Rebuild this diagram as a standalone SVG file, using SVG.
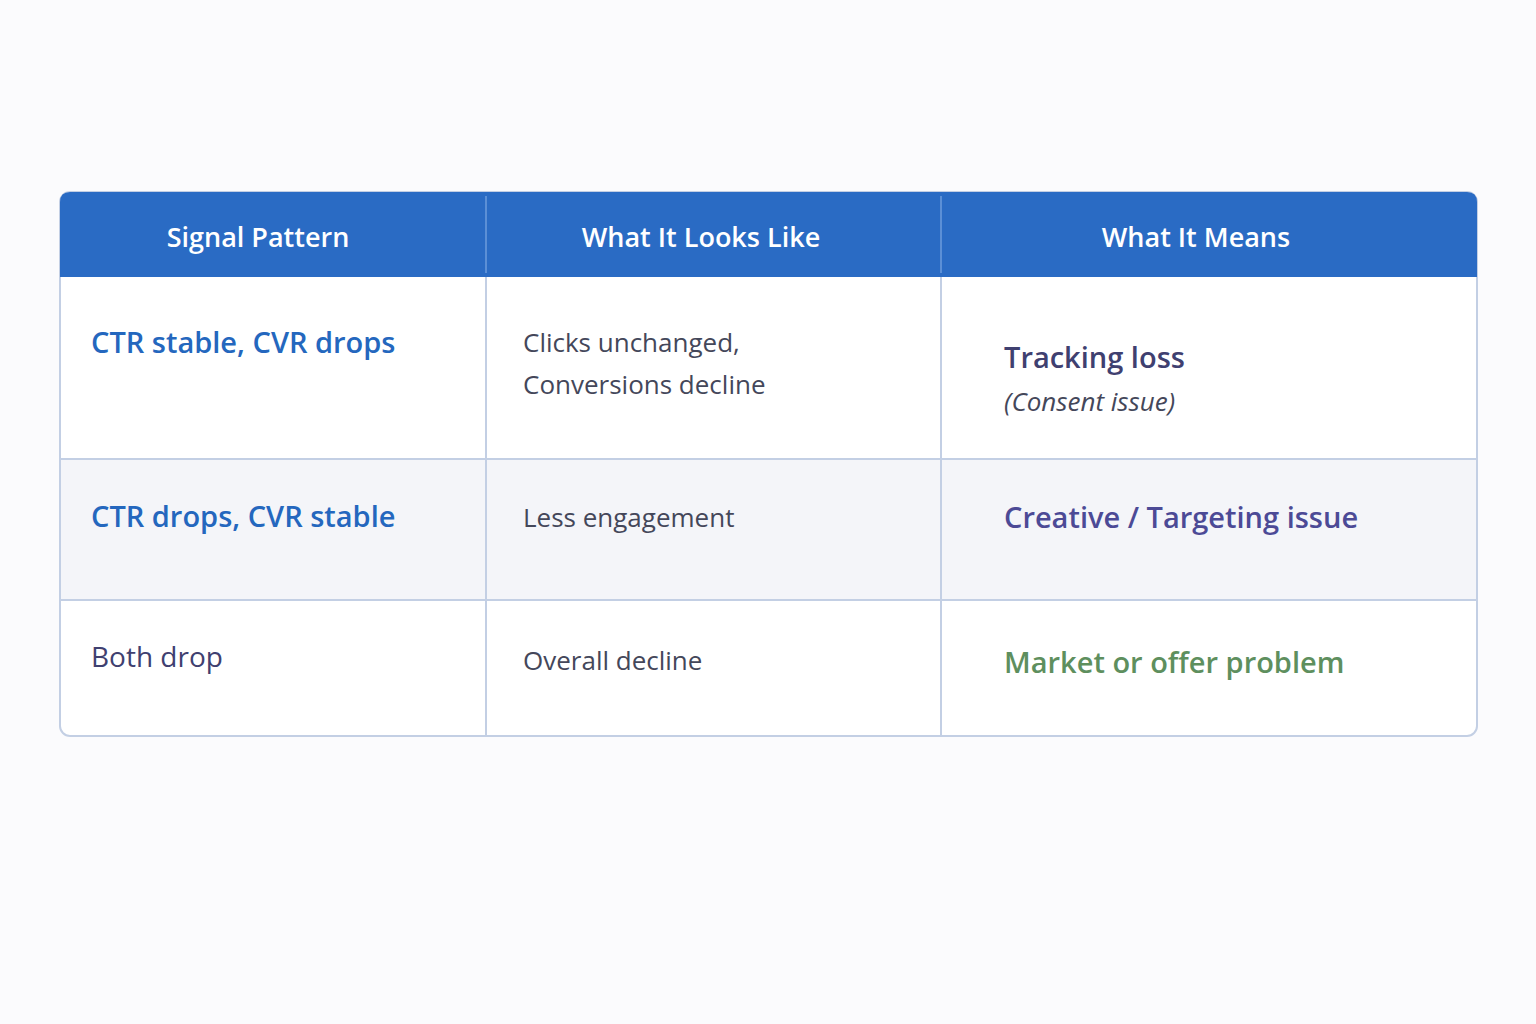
<svg xmlns="http://www.w3.org/2000/svg" width="1536" height="1024" viewBox="0 0 1536 1024">
<style>
text{font-family:"Open Sans","Noto Sans",sans-serif}
.h{fill:#fff;font-size:27px;font-weight:600;text-anchor:middle}
.b{fill:#2467be;font-size:29px;font-weight:600}
.n{fill:#44475a;font-size:26px}
.ln{stroke:#c3cfe4;stroke-width:2;fill:none}
</style>
<rect width="1536" height="1024" fill="#fbfbfd"/>
<g id="table">
<rect x="60" y="192" width="1417" height="544" rx="10" fill="#fff" stroke="#c3cfe4" stroke-width="2"/>
<rect x="61" y="459" width="1415" height="141" fill="#f4f5f9"/>
<path d="M70 192 H1467 Q1477 192 1477 202 V277 H60 V202 Q60 192 70 192Z" fill="#2a6bc4"/>
<path class="ln" d="M60 459 H1477 M60 600 H1477 M486 277 V736 M941 277 V736"/>
<path d="M486 196 V273 M941 196 V273" stroke="#5b8fd6" stroke-width="2"/>
</g>
<g id="header">
<text class="h" x="258" y="247">Signal Pattern</text>
<text class="h" x="701" y="247">What It Looks Like</text>
<text class="h" x="1196" y="247">What It Means</text>
</g>
<g id="row1">
<text class="b" x="91" y="353">CTR stable, CVR drops</text>
<text class="n" x="523" y="352">Clicks unchanged,</text>
<text class="n" x="523" y="394">Conversions decline</text>
<text x="1004" y="368" font-size="29" font-weight="600" fill="#3f4070">Tracking loss</text>
<text x="1004" y="411" font-size="26" font-style="italic" fill="#44475a">(Consent issue)</text>
</g>
<g id="row2">
<text class="b" x="91" y="527">CTR drops, CVR stable</text>
<text class="n" x="523" y="527">Less engagement</text>
<text x="1004" y="528" font-size="29" font-weight="600" fill="#4c4a96">Creative / Targeting issue</text>
</g>
<g id="row3">
<text x="91" y="667" font-size="28" fill="#3f4070">Both drop</text>
<text class="n" x="523" y="670">Overall decline</text>
<text x="1004" y="673" font-size="29" font-weight="600" fill="#5e8f5e">Market or offer problem</text>
</g>
</svg>
